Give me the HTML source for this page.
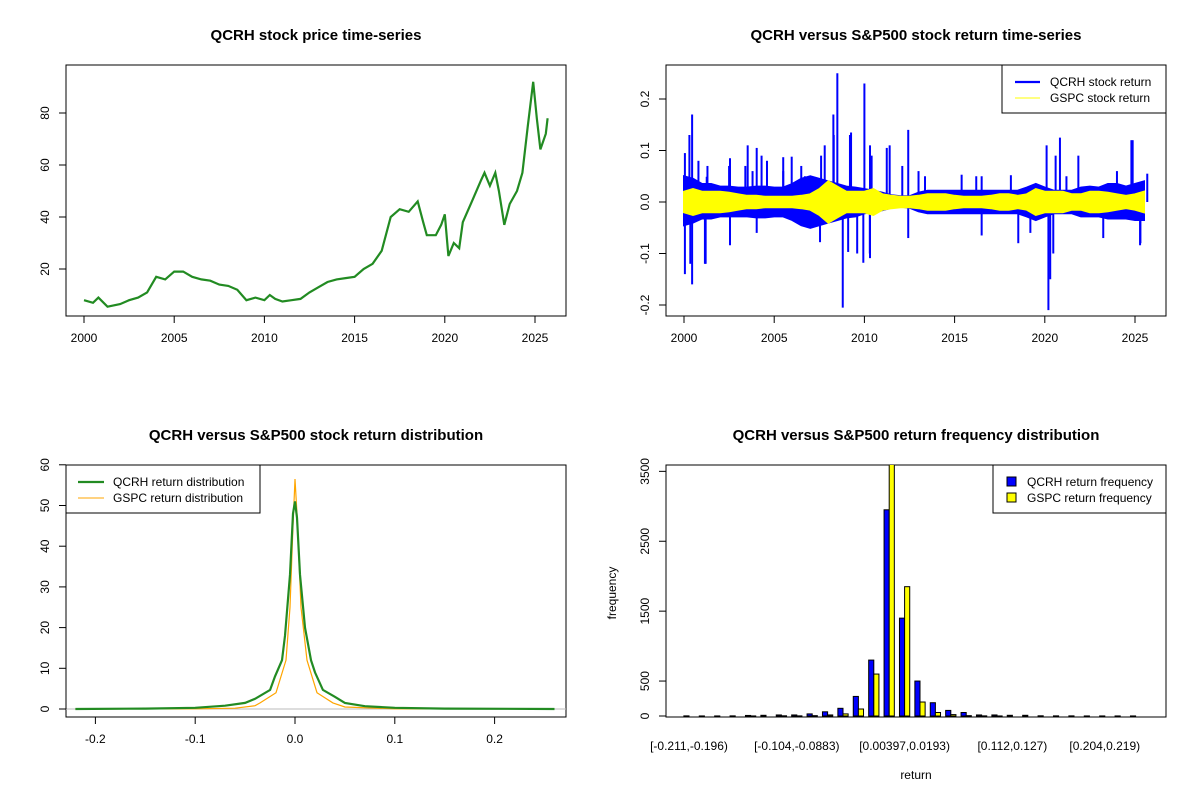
<!DOCTYPE html>
<html><head><meta charset="utf-8"><style>
body{margin:0;background:#fff}
svg{display:block;font-family:"Liberation Sans",Arial,sans-serif}
.t{font-weight:bold;font-size:15px;text-anchor:middle}
.k{font-size:12px}
</style></head><body>
<svg id="s" width="1200" height="800" viewBox="0 0 1200 800">
<defs>
<clipPath id="c1"><rect x="66" y="65" width="500" height="251"/></clipPath>
<clipPath id="c2"><rect x="666" y="65" width="500" height="251"/></clipPath>
<clipPath id="c3"><rect x="66" y="465" width="500" height="252"/></clipPath>
<clipPath id="c4"><rect x="666" y="465" width="500" height="252"/></clipPath>
</defs>
<text class="t" x="316" y="40">QCRH stock price time-series</text>
<text class="t" x="916" y="40">QCRH versus S&amp;P500 stock return time-series</text>
<text class="t" x="316" y="440">QCRH versus S&amp;P500 stock return distribution</text>
<text class="t" x="916" y="440">QCRH versus S&amp;P500 return frequency distribution</text>
<g id="g1"></g>
<g id="g2"></g>
<g id="g3"></g>
<g id="g4"></g>
</svg>
<script>
// ---- data ----
const priceYears=[2000,2000.5,2000.8,2001.3,2002,2002.5,2003,2003.5,2004,2004.5,2005,2005.5,2006,2006.5,2007,2007.5,2008,2008.5,2009,2009.5,2010,2010.3,2010.6,2011,2011.5,2012,2012.5,2013,2013.5,2014,2014.5,2015,2015.5,2016,2016.5,2017,2017.5,2018,2018.5,2018.8,2019,2019.5,2019.8,2020,2020.2,2020.5,2020.8,2021,2021.5,2022,2022.2,2022.5,2022.8,2023,2023.3,2023.6,2024,2024.3,2024.6,2024.9,2025.1,2025.3,2025.6,2025.7];
const priceValues=[8,7,9,5.5,6.5,8,9,11,17,16,19,19,17,16,15.5,14,13.5,12,8,9,8,10,8.5,7.5,8,8.5,11,13,15,16,16.5,17,20,22,27,40,43,42,46,38,33,33,37,41,25,30,28,38,46,54,57,52,57,50,37,45,50,57,75,92,78,66,72,78];
const priceTicksX=[2000,2005,2010,2015,2020,2025];
const priceTicksY=[20,40,60,80];

const envYears=[];for(let i=0;i<52;i++)envYears.push(2000+i*0.5);
const qUp=[0.05,0.045,0.035,0.035,0.03,0.03,0.028,0.028,0.03,0.03,0.028,0.028,0.035,0.045,0.05,0.045,0.04,0.035,0.03,0.028,0.025,0.022,0.018,0.013,0.011,0.011,0.018,0.022,0.022,0.022,0.022,0.022,0.022,0.022,0.022,0.022,0.022,0.022,0.028,0.035,0.028,0.022,0.022,0.022,0.028,0.03,0.028,0.035,0.035,0.03,0.035,0.04];
const qDn=[-0.045,-0.04,-0.032,-0.032,-0.028,-0.028,-0.028,-0.028,-0.03,-0.03,-0.028,-0.028,-0.035,-0.045,-0.05,-0.045,-0.04,-0.035,-0.03,-0.028,-0.022,-0.02,-0.016,-0.011,-0.009,-0.011,-0.018,-0.022,-0.022,-0.022,-0.022,-0.022,-0.022,-0.022,-0.022,-0.022,-0.022,-0.022,-0.028,-0.035,-0.028,-0.022,-0.022,-0.022,-0.028,-0.028,-0.028,-0.032,-0.032,-0.032,-0.035,-0.035];
const gAmp=[0.02,0.025,0.02,0.02,0.02,0.018,0.015,0.012,0.012,0.01,0.01,0.01,0.01,0.012,0.015,0.025,0.04,0.03,0.02,0.02,0.02,0.025,0.015,0.012,0.01,0.01,0.012,0.015,0.015,0.015,0.012,0.01,0.01,0.01,0.012,0.015,0.015,0.012,0.015,0.025,0.02,0.02,0.02,0.015,0.015,0.02,0.02,0.018,0.015,0.012,0.015,0.02];
const qSpikeYears=[2000.05,2000.05,2000.3,2000.35,2000.45,2000.45,2000.8,2001.2,2001.3,2002.5,2003.4,2003.8,2004.3,2004.6,2005.5,2007.6,2008.5,2008.8,2008.3,2009.2,2009.6,2010.0,2010.3,2010.4,2011.4,2013.0,2016.2,2020.1,2020.2,2020.3,2020.6,2021.2,2024.8,2025.3,2024.0,2006.5,2012.1,2019.2,
2001.26,2002.55,2003.53,2004.03,2005.5,2005.97,2006.7,2007.8,2008.28,2009.26,2010.31,2011.24,2012.43,2013.36,2015.39,2016.5,2018.12,2020.84,2021.86,2024.87,2025.68,
2001.16,2002.55,2004.03,2007.54,2009.1,2009.94,2010.31,2012.43,2016.5,2018.53,2020.47,2023.24,2025.28];
const qSpikeVals=[0.095,-0.14,0.13,-0.12,0.17,-0.16,0.08,-0.12,0.07,0.07,0.07,0.06,0.09,0.08,0.06,0.09,0.25,-0.205,0.13,0.13,-0.1,0.23,-0.1,0.09,0.11,0.06,0.05,0.11,-0.21,-0.15,0.09,0.05,0.12,-0.08,0.06,0.07,0.07,-0.06,
0.049,0.085,0.11,0.105,0.087,0.088,0.05,0.11,0.17,0.135,0.11,0.105,0.14,0.05,0.053,0.05,0.052,0.125,0.09,0.12,0.055,
-0.12,-0.084,-0.06,-0.078,-0.097,-0.118,-0.109,-0.07,-0.065,-0.08,-0.1,-0.07,-0.084];
const retTicksY=[-0.2,-0.1,0,0.1,0.2];

const qDenX=[-0.22,-0.15,-0.1,-0.07,-0.05,-0.04,-0.025,-0.02,-0.013,-0.01,-0.005,-0.002,0,0.002,0.005,0.01,0.016,0.02,0.028,0.04,0.05,0.07,0.1,0.15,0.26];
const qDenY=[0,0.1,0.3,0.8,1.5,2.5,4.7,8,12,18,33,48,51,47,33,20,12,9,4.7,3,1.5,0.7,0.3,0.1,0];
const gDenX=[-0.22,-0.1,-0.06,-0.04,-0.035,-0.019,-0.009,-0.005,-0.002,0,0.002,0.006,0.012,0.022,0.038,0.05,0.1,0.26];
const gDenY=[0,0.05,0.2,0.8,1.5,4,12,25,45,56.5,48,25,12,4,1.5,0.5,0.05,0];
const denTicksX=[-0.2,-0.1,0,0.1,0.2];
const denTicksY=[0,10,20,30,40,50,60];

const binLabels=["[-0.211,-0.196)","[-0.104,-0.0883)","[0.00397,0.0193)","[0.112,0.127)","[0.204,0.219)"];
const binLabelIdx=[0,7,14,21,27];
const qFreq=[2,1,1,2,8,10,15,15,30,60,110,280,800,2950,1400,500,190,80,50,15,15,10,10,3,2,2,1,1,1,1];
const gFreq=[0,0,0,0,1,0,3,2,5,15,30,100,600,3600,1850,200,50,20,5,2,1,0,0,0,0,0,0,0,0,0];
const freqTicksY=[0,500,1500,2500,3500];

// ---- helpers ----
const NS="http://www.w3.org/2000/svg";
function mk(p,tag,a,txt){const e=document.createElementNS(NS,tag);for(const k in a)e.setAttribute(k,a[k]);if(txt!==undefined)e.textContent=txt;p.appendChild(e);return e;}
function box(g,x,y,w,h){const r=mk(g,'rect',{x:x,y:y,width:w,height:h,fill:'none',stroke:'#000','stroke-width':1});

}
function xtick(g,x,y0,label){const l=mk(g,'line',{x1:x,x2:x,y1:y0,y2:y0+7,stroke:'#000'});


const t=mk(g,'text',{x:x,y:y0+26,'text-anchor':'middle',class:'k'},label);

}
function ytick(g,x0,y,label){const l=mk(g,'line',{x1:x0-7,x2:x0,y1:y,y2:y,stroke:'#000'});


const t=mk(g,'text',{x:x0-17,y:y,'text-anchor':'middle',class:'k',transform:`rotate(-90 ${x0-17} ${y})`},label);

}
function axisLineX(g,a,b,y){const l=mk(g,'line',{x1:a,x2:b,y1:y,y2:y,stroke:'#000'});

}
function axisLineY(g,x,a,b){const l=mk(g,'line',{x1:x,x2:x,y1:a,y2:b,stroke:'#000'});

}

// ---- panel 1 ----
(function(){const g=document.getElementById('g1');
const X=v=>84+(v-2000)*18.04, Y=v=>321-v*2.6;
box(g,66,65,500,251);
let d=priceYears.map((v,i)=>(i?'L':'M')+X(v).toFixed(1)+' '+Y(priceValues[i]).toFixed(1)).join(' ');
const p=mk(g,'path',{d:d,fill:'none',stroke:'#228B22','stroke-width':2.2,'clip-path':'url(#c1)'});


axisLineX(g,X(2000),X(2025),316);priceTicksX.forEach(v=>xtick(g,X(v),316,v));
axisLineY(g,66,Y(20),Y(80));priceTicksY.forEach(v=>ytick(g,66,Y(v),v));
})();

// ---- panel 2 ----
(function(){const g=document.getElementById('g2');
const X=v=>684+(v-2000)*18.04, Y=v=>202-v*515;
box(g,666,65,500,251);
const cg=mk(g,'g',{'clip-path':'url(#c2)'});
let up=envYears.map((v,i)=>(i?'L':'M')+X(v).toFixed(1)+' '+Y(qUp[i]).toFixed(1)).join(' ');
let dn=envYears.slice().reverse().map((v,j)=>{const i=envYears.length-1-j;return 'L'+X(v).toFixed(1)+' '+Y(qDn[i]).toFixed(1);}).join(' ');
const qa=mk(cg,'path',{d:up+' '+dn+' Z',fill:'#0000FF',stroke:'#0000FF','stroke-width':2});


qSpikeYears.forEach((v,i)=>{const l=mk(cg,'line',{x1:X(v),x2:X(v),y1:Y(0),y2:Y(qSpikeVals[i]),stroke:'#0000FF','stroke-width':2});

});
let gu=envYears.map((v,i)=>(i?'L':'M')+X(v).toFixed(1)+' '+Y(gAmp[i]).toFixed(1)).join(' ');
let gd=envYears.slice().reverse().map((v,j)=>{const i=envYears.length-1-j;return 'L'+X(v).toFixed(1)+' '+Y(-gAmp[i]).toFixed(1);}).join(' ');
const ga=mk(cg,'path',{d:gu+' '+gd+' Z',fill:'#FFFF00',stroke:'#FFFF00','stroke-width':2});


axisLineX(g,X(2000),X(2025),316);priceTicksX.forEach(v=>xtick(g,X(v),316,v));
axisLineY(g,666,Y(-0.2),Y(0.2));retTicksY.forEach(v=>ytick(g,666,Y(v),v.toFixed(1)));
const lg=mk(g,'g',{});
mk(lg,'rect',{x:1002,y:65,width:164,height:48,fill:'#fff',stroke:'#000'});
mk(lg,'line',{x1:1015,x2:1040,y1:82,y2:82,stroke:'#0000FF','stroke-width':2.2});
mk(lg,'line',{x1:1015,x2:1040,y1:98,y2:98,stroke:'#FFFF00','stroke-width':1});
mk(lg,'text',{x:1050,y:86,class:'k'},'QCRH stock return');
mk(lg,'text',{x:1050,y:102,class:'k'},'GSPC stock return');
})();

// ---- panel 3 ----
(function(){const g=document.getElementById('g3');
const X=v=>295+v*998, Y=v=>709-v*4.07;
box(g,66,465,500,252);
const cg=mk(g,'g',{'clip-path':'url(#c3)'});
const z=mk(cg,'line',{x1:66,x2:566,y1:Y(0),y2:Y(0),stroke:'#bbb'});

const o=mk(cg,'path',{d:gDenX.map((v,i)=>(i?'L':'M')+X(v).toFixed(1)+' '+Y(gDenY[i]).toFixed(1)).join(' '),fill:'none',stroke:'#FFA500','stroke-width':1.2});

const q=mk(cg,'path',{d:qDenX.map((v,i)=>(i?'L':'M')+X(v).toFixed(1)+' '+Y(qDenY[i]).toFixed(1)).join(' '),fill:'none',stroke:'#228B22','stroke-width':2.2});

axisLineX(g,X(-0.2),X(0.2),717);denTicksX.forEach(v=>xtick(g,X(v),717,v.toFixed(1)));
axisLineY(g,66,Y(0),Y(60));denTicksY.forEach(v=>ytick(g,66,Y(v),v));
const lg=mk(g,'g',{});
mk(lg,'rect',{x:66,y:465,width:194,height:48,fill:'#fff',stroke:'#000'});
mk(lg,'line',{x1:78,x2:104,y1:482,y2:482,stroke:'#228B22','stroke-width':2.2});
mk(lg,'line',{x1:78,x2:104,y1:498,y2:498,stroke:'#FFA500','stroke-width':1});
mk(lg,'text',{x:113,y:486,class:'k'},'QCRH return distribution');
mk(lg,'text',{x:113,y:502,class:'k'},'GSPC return distribution');
})();

// ---- panel 4 ----
(function(){const g=document.getElementById('g4');
const C=i=>689+i*15.4, Y=v=>716-v*0.0699, bw=5.13;
box(g,666,465,500,252);
const cg=mk(g,'g',{'clip-path':'url(#c4)'});
qFreq.forEach((v,i)=>{const r=mk(cg,'rect',{x:C(i)-bw,y:Y(v),width:bw,height:Math.max(0,716-Y(v)),fill:'#0000FF',stroke:'#000','stroke-width':1});

});
gFreq.forEach((v,i)=>{const r=mk(cg,'rect',{x:C(i),y:Y(v),width:bw,height:Math.max(0,716-Y(v)),fill:'#FFFF00',stroke:'#000','stroke-width':1});

});
binLabelIdx.forEach((b,i)=>{const t=mk(g,'text',{x:C(b),y:750,'text-anchor':'middle',class:'k'},binLabels[i]);

});
axisLineY(g,666,Y(0),Y(3500));freqTicksY.forEach(v=>ytick(g,666,Y(v),v));
const xt=mk(g,'text',{x:916,y:779,'text-anchor':'middle',class:'k'},'return');

const yt=mk(g,'text',{x:616,y:593,'text-anchor':'middle',class:'k',transform:'rotate(-90 616 593)'},'frequency');

const lg=mk(g,'g',{});
mk(lg,'rect',{x:993,y:465,width:173,height:48,fill:'#fff',stroke:'#000'});
mk(lg,'rect',{x:1007,y:477,width:9,height:9,fill:'#0000FF',stroke:'#000'});
mk(lg,'rect',{x:1007,y:493,width:9,height:9,fill:'#FFFF00',stroke:'#000'});
mk(lg,'text',{x:1027,y:486,class:'k'},'QCRH return frequency');
mk(lg,'text',{x:1027,y:502,class:'k'},'GSPC return frequency');
})();
</script>
</body></html>
